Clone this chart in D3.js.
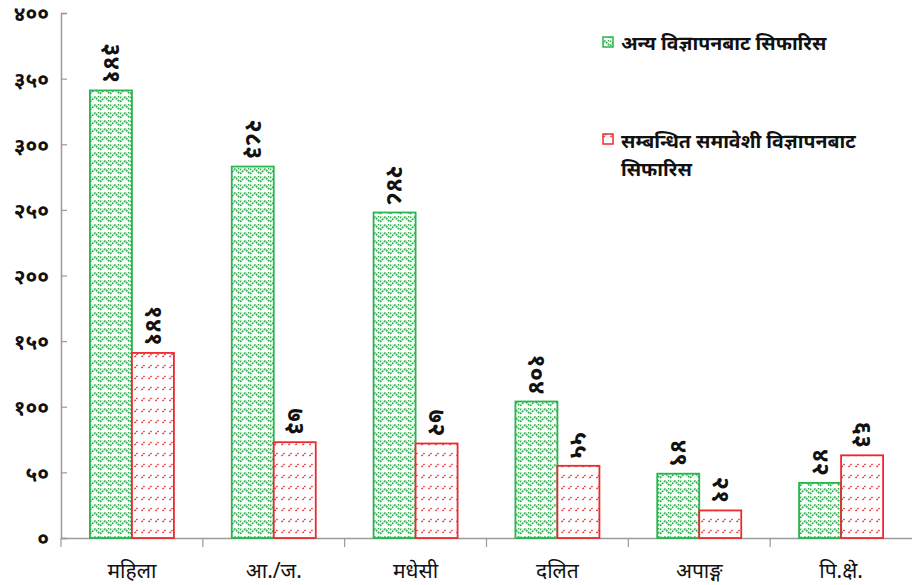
<!DOCTYPE html>
<html>
<head>
<meta charset="utf-8">
<script src="https://cdn.jsdelivr.net/npm/d3@7"></script>
<style>
  body { margin: 0; background: #fff; }
  svg text { font-family: "Noto Sans", "DejaVu Sans", sans-serif; }
</style>
</head>
<body>
<svg id="chart"></svg>
<script>
// data
var categories = ["महिला", "आ./ज.", "मधेसी", "दलित", "अपाङ्ग", "पि.क्षे."];
var otherAds = [341, 283, 248, 104, 49, 42];     // अन्य विज्ञापनबाट सिफारिस
var inclusiveAds = [141, 73, 72, 55, 21, 63];    // सम्बन्धित समावेशी विज्ञापनबाट सिफारिस
var seriesNames = ["अन्य विज्ञापनबाट सिफारिस", "सम्बन्धित समावेशी विज्ञापनबाट सिफारिस"];
var yTicks = [0, 50, 100, 150, 200, 250, 300, 350, 400];

var width = 912, height = 585;
// plot area (note: "top" is reserved on window, so use other names)
var plotL = 61, plotR = 912, plotT = 13, plotB = 538;

var digits = "०१२३४५६७८९";
function deva(n) {
  return String(n).replace(/[0-9]/g, function(c){ return digits[+c]; });
}

var svg = d3.select("#chart").attr("width", width).attr("height", height);

var defs = svg.append("defs");
var pg = defs.append("pattern").attr("id", "pgreen")
  .attr("patternUnits", "userSpaceOnUse").attr("width", 10).attr("height", 8);
pg.append("rect").attr("width", 10).attr("height", 8).attr("fill", "#fff");
pg.append("path").attr("d", "M0,6 L5,1 L10,6")
  .attr("fill", "none").attr("stroke", "#2bb34e").attr("stroke-width", 1.6)
  .attr("stroke-dasharray", "2,0.8");
pg.append("path").attr("d", "M0,2 L2,0 M8,0 L10,2")
  .attr("fill", "none").attr("stroke", "#2bb34e").attr("stroke-width", 1.4)
  .attr("stroke-dasharray", "1.6,0.8");

var pr = defs.append("pattern").attr("id", "pred")
  .attr("patternUnits", "userSpaceOnUse").attr("width", 7).attr("height", 11);
pr.append("rect").attr("width", 7).attr("height", 11).attr("fill", "#fff");
pr.append("path").attr("d", "M1.5,5 L4.5,2")
  .attr("stroke", "#ea2a2f").attr("stroke-width", 1.4)
  .attr("stroke-dasharray", "1.8,0.9");

var x = d3.scaleBand().domain(categories).range([plotL, plotR]).paddingInner(0).paddingOuter(0);
var y = d3.scaleLinear().domain([0, 400]).range([plotB, plotT]);
var barW = 42;
var gap = (x.bandwidth() - 2 * barW) / 2;

// y axis
var yAxis = svg.append("g").attr("transform", "translate(" + plotL + ",0)")
  .call(d3.axisRight(y).tickValues(yTicks).tickSize(6).tickFormat(""));
yAxis.select(".domain").attr("stroke", "#9a9a9a").attr("stroke-width", 1.5);
yAxis.selectAll(".tick line").attr("stroke", "#9a9a9a").attr("stroke-width", 1.2);

svg.append("g").selectAll("text").data(yTicks).enter().append("text")
  .attr("x", 49).attr("y", function(d){ return y(d) + 1; })
  .attr("dy", "0.35em").attr("text-anchor", "end")
  .attr("font-size", 21).attr("font-weight", "bold").attr("fill", "#111")
  .text(function(d){ return deva(d); });

// x axis
var xAxis = svg.append("g").attr("transform", "translate(0," + plotB + ")")
  .call(d3.axisBottom(x).tickSize(0).tickFormat(""));
xAxis.select(".domain").attr("stroke", "#9a9a9a").attr("stroke-width", 1.5);
xAxis.selectAll(".tick").remove();
svg.append("g").selectAll("line").data(categories).enter().append("line")
  .attr("x1", function(d){ return x(d); }).attr("x2", function(d){ return x(d); })
  .attr("y1", plotB).attr("y2", plotB + 9)
  .attr("stroke", "#9a9a9a").attr("stroke-width", 1.2);

svg.append("g").selectAll("text").data(categories).enter().append("text")
  .attr("x", function(d){ return x(d) + x.bandwidth() / 2; })
  .attr("y", 578).attr("text-anchor", "middle")
  .attr("font-size", 21).attr("fill", "#111")
  .text(function(d){ return d; });

// bars
var series = [
  { values: otherAds, fill: "url(#pgreen)", stroke: "#2bb34e", off: 0 },
  { values: inclusiveAds, fill: "url(#pred)", stroke: "#ea2a2f", off: 1 }
];

series.forEach(function(s) {
  var g = svg.append("g");
  g.selectAll("rect").data(s.values).enter().append("rect")
    .attr("x", function(d, i){ return x(categories[i]) + gap + s.off * barW; })
    .attr("y", function(d){ return y(d); })
    .attr("width", barW)
    .attr("height", function(d){ return plotB - y(d); })
    .attr("fill", s.fill).attr("stroke", s.stroke).attr("stroke-width", 1.8);

  g.selectAll("text").data(s.values).enter().append("text")
    .attr("transform", function(d, i){
      var cx = x(categories[i]) + gap + s.off * barW + barW / 2;
      return "translate(" + cx + "," + (y(d) - 7) + ")rotate(90)";
    })
    .attr("text-anchor", "end").attr("dy", "0.3em")
    .attr("font-size", 24).attr("font-weight", "bold").attr("fill", "#111")
    .text(function(d){ return deva(d); });
});

// legend
var legend = svg.append("g");
legend.append("rect").attr("x", 603).attr("y", 37).attr("width", 10).attr("height", 10)
  .attr("fill", "url(#pgreen)").attr("stroke", "#2bb34e").attr("stroke-width", 1.5);
legend.append("text").attr("x", 621).attr("y", 50)
  .attr("font-size", 19.5).attr("font-weight", "bold").attr("fill", "#111")
  .text(seriesNames[0]);
legend.append("rect").attr("x", 603).attr("y", 134).attr("width", 10).attr("height", 10)
  .attr("fill", "url(#pred)").attr("stroke", "#ea2a2f").attr("stroke-width", 1.5);
var t2 = legend.append("text").attr("x", 621).attr("y", 148)
  .attr("font-size", 19.5).attr("font-weight", "bold").attr("fill", "#111");
t2.append("tspan").attr("x", 621).text("सम्बन्धित समावेशी विज्ञापनबाट");
t2.append("tspan").attr("x", 621).attr("dy", 28).text("सिफारिस");
</script>
</body>
</html>
